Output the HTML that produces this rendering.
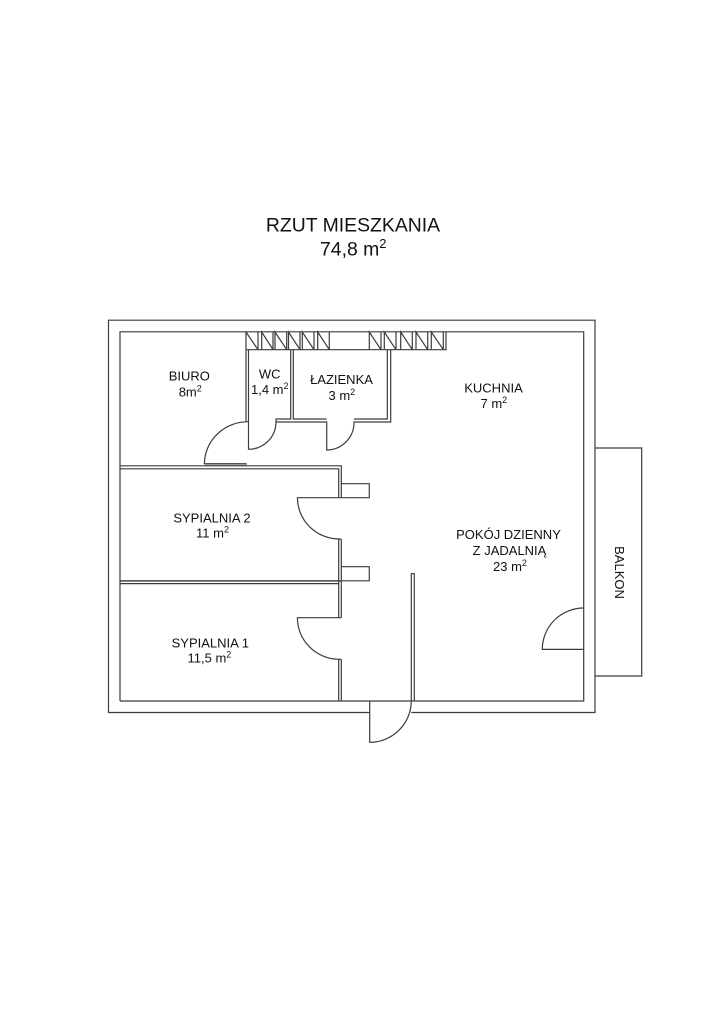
<!DOCTYPE html>
<html><head><meta charset="utf-8"><style>
html,body{margin:0;padding:0;background:#fff;width:723px;height:1023px;overflow:hidden}
svg{display:block}
text{font-family:"Liberation Sans",Arial,sans-serif;fill:#111}
.l{font-size:13px}
.t{font-size:19.4px}
.s{font-size:9px}
.s2{font-size:13px}
</style></head><body>
<svg width="723" height="1023" viewBox="0 0 723 1023" xmlns="http://www.w3.org/2000/svg">
<rect width="723" height="1023" fill="#fff"/>
<g fill="none" stroke="#3c3c3c" stroke-width="1.2">
<!-- outer wall -->
<path d="M369.7 712.5H108.5V320.2H595V712.5H411.3"/>
<!-- inner wall -->
<path d="M120 701V331.8H583.7V701H120"/>
<!-- balcony -->
<path d="M595 448H641.7V676H595"/>
<!-- chimney -->
<path d="M246 349.7H446V332"/>
<path d="M246 332V349.7"/>
<path d="M261.7 332V349.7L261.7 332L273 349.7M273 332V349.7M275 332V349.7L275 332L286.7 349.7M286.7 332V349.7M288.5 332V349.7L288.5 332L300 349.7M300 332V349.7M302.3 332V349.7L302.3 332L314 349.7M314 332V349.7M317.7 332V349.7L317.7 332L329.3 349.7M329.3 332V349.7"/>
<path d="M246 332L258 349.7M258 332V349.7"/>
<path d="M369.3 332V349.7L369.3 332L381 349.7M381 332V349.7M384.3 332V349.7L384.3 332L396 349.7M396 332V349.7M400.7 332V349.7L400.7 332L412.3 349.7M412.3 332V349.7M416 332V349.7L416 332L427.7 349.7M427.7 332V349.7M431.3 332V349.7L431.3 332L443.3 349.7M443.3 332V349.7"/>
<!-- WC walls -->
<path d="M246 349.7V421.7"/>
<path d="M248.5 349.7V449.3A27.5 27.5 0 0 0 276 421.7V419H290.7V349.7"/>
<path d="M276 422H326.7V450A27.5 27.5 0 0 0 354 422H390.7V349.7"/>
<path d="M293.3 349.7V419H326.7"/>
<path d="M354 419H387.3V349.7"/>
<!-- biuro door -->
<path d="M246 421.7H248A43.7 42.5 0 0 0 204.4 464.3"/>
<path d="M204.4 463.7H246V466"/>
<rect x="205" y="464" width="41" height="2" fill="#999" stroke="none"/>
<!-- horizontal walls -->
<path d="M120 465.8H341.3V497.7"/>
<path d="M120 468.8H338.7V497.7"/>
<path d="M120 580.8H338.7"/>
<path d="M120 583.6H338.7"/>
<path d="M120 581H341.3"/>
<!-- sypialnia 2 door -->
<path d="M341.3 497.7H297.4A42 41.5 0 0 0 339 539"/>
<path d="M338.7 539H341.3"/>
<path d="M338.7 539V617.7M341.3 539V617.7"/>
<!-- sypialnia 1 door -->
<path d="M341.3 617.7H297.4A42 41.5 0 0 0 339 659.3"/>
<path d="M338.7 659.3H341.3"/>
<path d="M338.7 659.3V701M341.3 659.3V701"/>
<!-- stubs -->
<path d="M341.3 483.7H369.3V497.7H341.3"/>
<path d="M341.3 566.7H369.3V580.8H341.3"/>
<!-- entry -->
<path d="M369.7 701V742.3A41.6 41.6 0 0 0 411.3 701"/>
<path d="M411.3 701V573.7H414.3V701"/>
<!-- balcony door -->
<path d="M583.7 608A41.4 41.4 0 0 0 542.3 649.4H583.7"/>
</g>
<text class="t" x="353" y="231.7" text-anchor="middle">RZUT MIESZKANIA</text>
<text class="t" x="320" y="255.5">74,8 m<tspan class="s2" dy="-7.5">2</tspan></text>
<text class="l" x="189.3" y="380.7" text-anchor="middle">BIURO</text>
<text class="l" x="178.7" y="396.7">8m<tspan class="s" dy="-5">2</tspan></text>
<text class="l" x="269.7" y="378.3" text-anchor="middle">WC</text>
<text class="l" x="251" y="394">1,4 m<tspan class="s" dy="-5">2</tspan></text>
<text class="l" x="341.5" y="384" text-anchor="middle">ŁAZIENKA</text>
<text class="l" x="328.5" y="400">3 m<tspan class="s" dy="-5">2</tspan></text>
<text class="l" x="493.5" y="392.3" text-anchor="middle">KUCHNIA</text>
<text class="l" x="480.5" y="408">7 m<tspan class="s" dy="-5">2</tspan></text>
<text class="l" x="212" y="522.3" text-anchor="middle">SYPIALNIA 2</text>
<text class="l" x="196" y="537.7">11 m<tspan class="s" dy="-5">2</tspan></text>
<text class="l" x="210.3" y="647.3" text-anchor="middle">SYPIALNIA 1</text>
<text class="l" x="187.5" y="662.7">11,5 m<tspan class="s" dy="-5">2</tspan></text>
<text class="l" x="508.5" y="539" text-anchor="middle">POKÓJ DZIENNY</text>
<text class="l" x="509.5" y="555" text-anchor="middle">Z JADALNIĄ</text>
<text class="l" x="493" y="571">23 m<tspan class="s" dy="-5">2</tspan></text>
<text class="l" transform="translate(615,572.5) rotate(90)" text-anchor="middle">BALKON</text>
</svg>
</body></html>
